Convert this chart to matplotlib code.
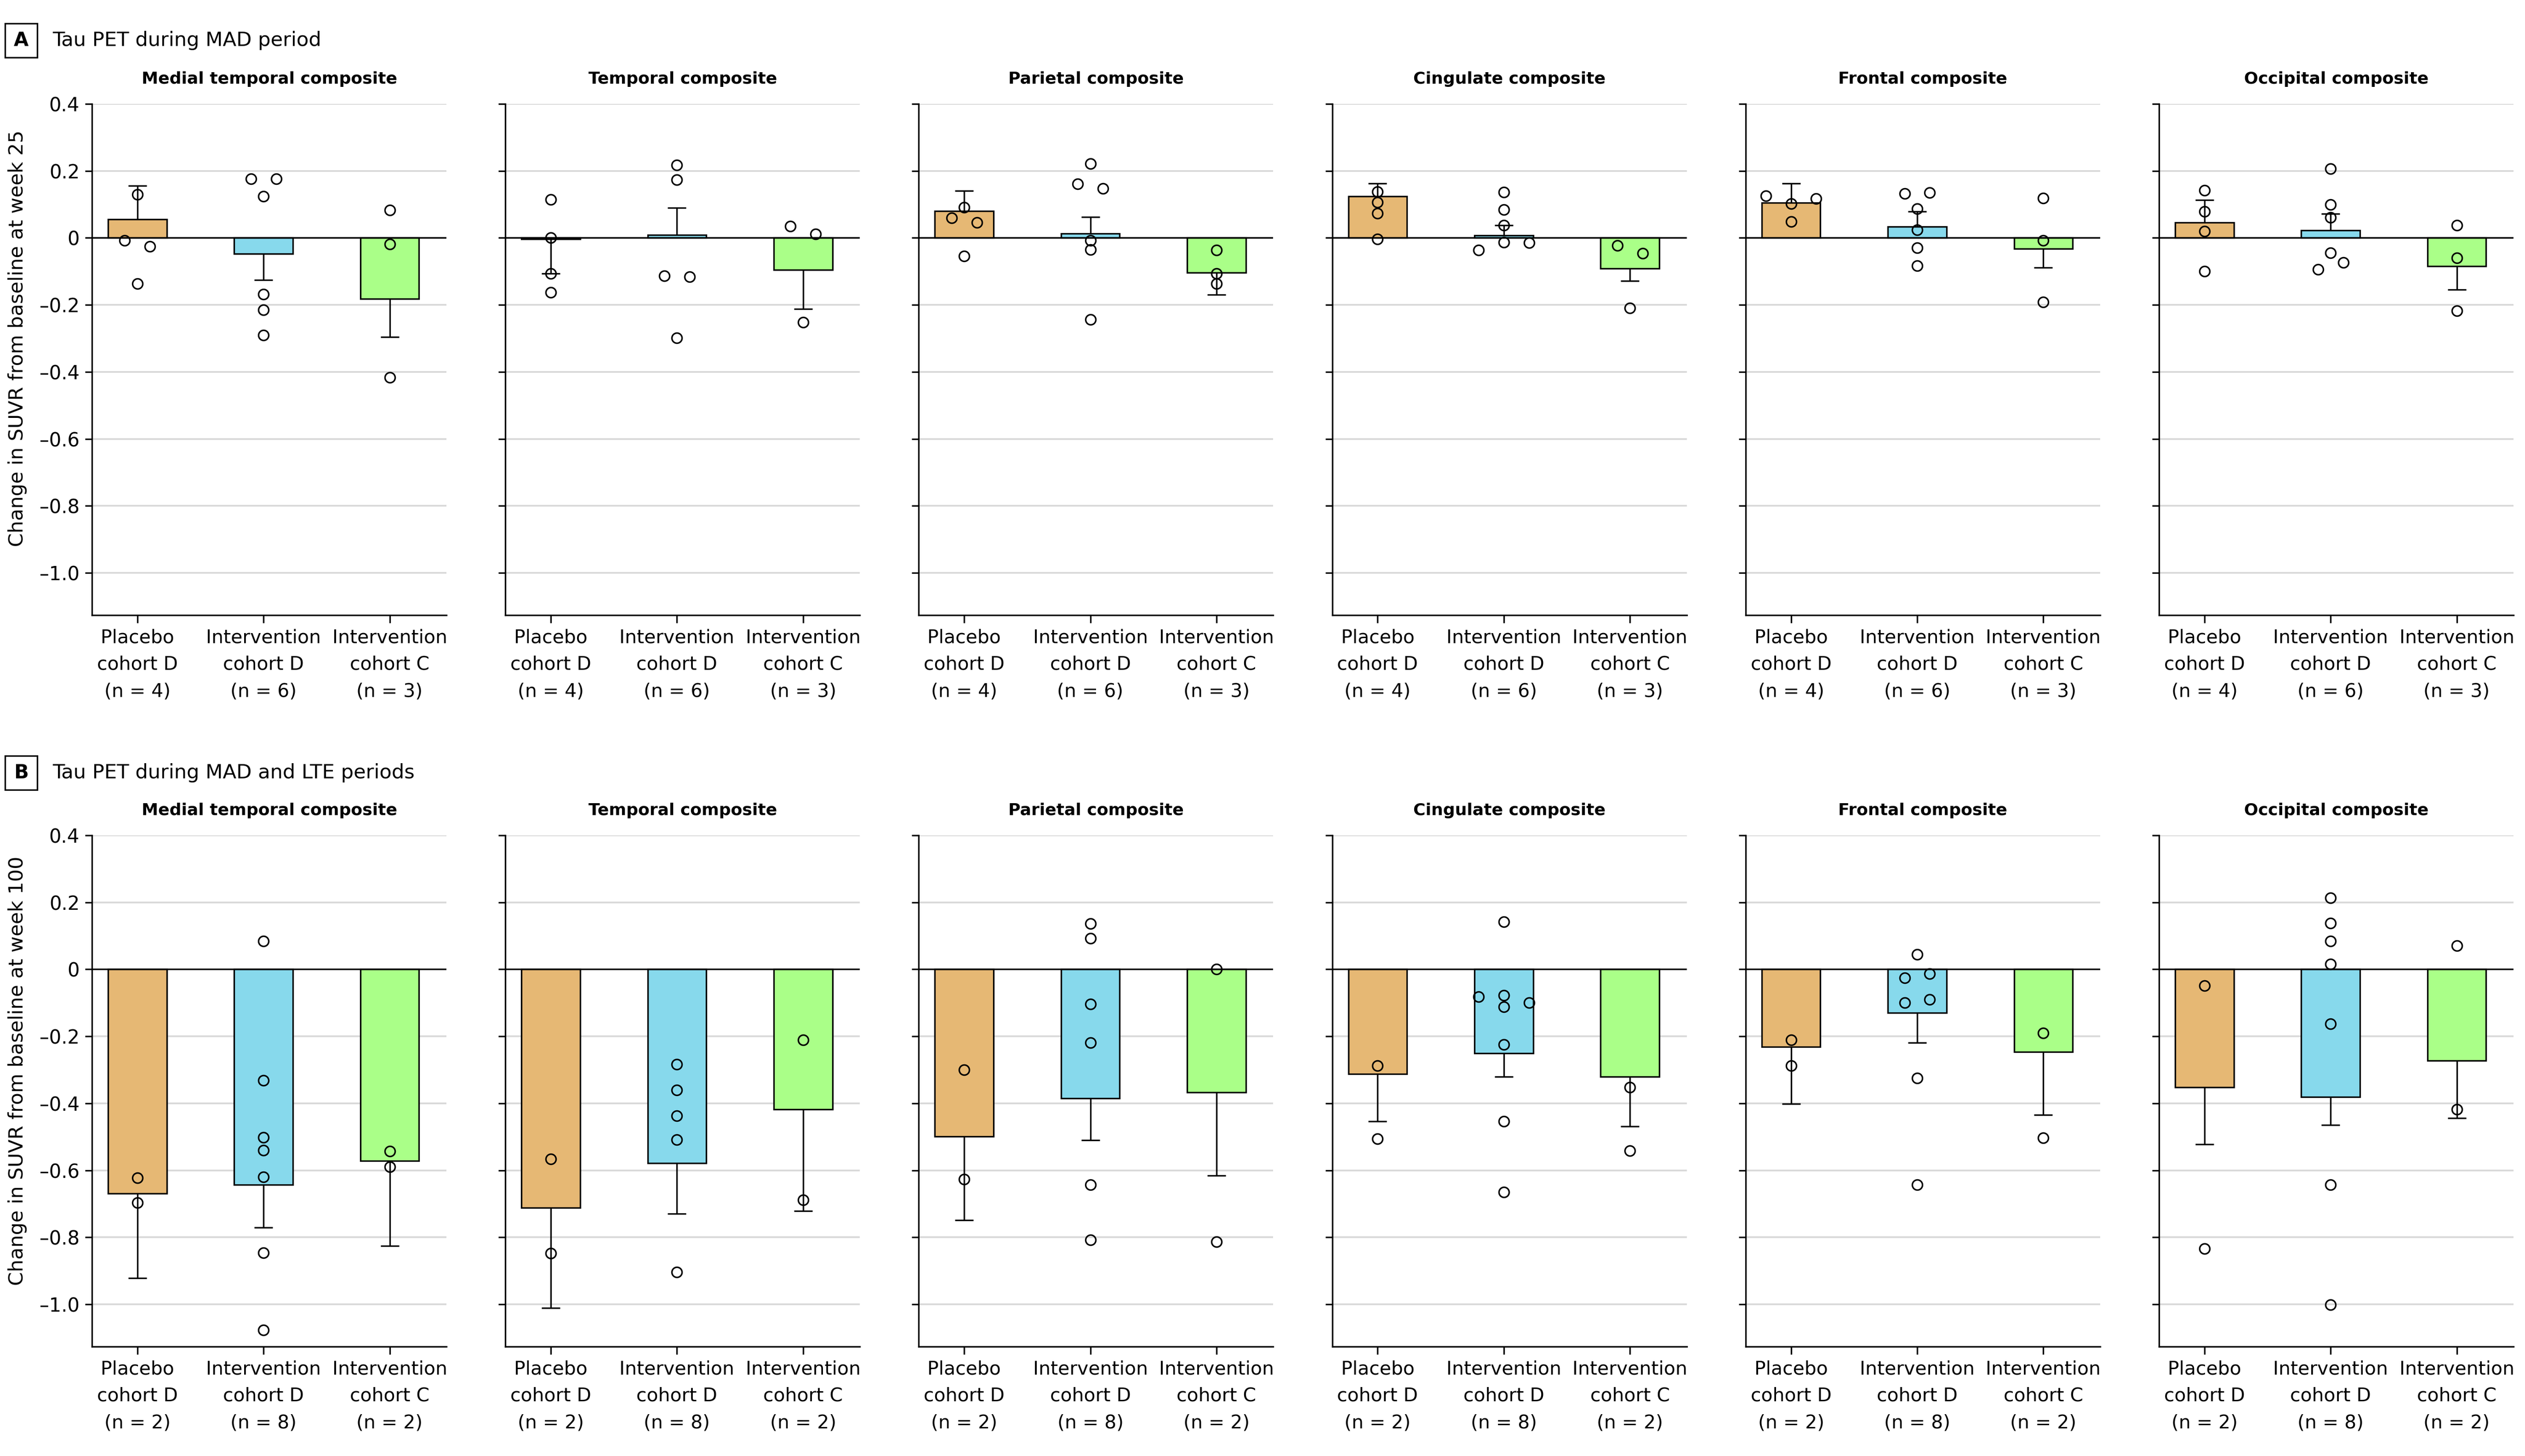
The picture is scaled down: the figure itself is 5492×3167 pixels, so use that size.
import numpy as np
import matplotlib.pyplot as plt
from matplotlib.patches import Rectangle

plt.rcParams['font.family'] = ['DejaVu Sans']

# ---- data ----
regions = ['Medial temporal composite', 'Temporal composite', 'Parietal composite',
           'Cingulate composite', 'Frontal composite', 'Occipital composite']
groups = ['Placebo\ncohort D', 'Intervention\ncohort D', 'Intervention\ncohort C']
n_mad = [4, 6, 3]
n_lte = [2, 8, 2]
yticks = [0.4, 0.2, 0, -0.2, -0.4, -0.6, -0.8, -1.0]
ytick_labels = ['0.4', '0.2', '0', '–0.2', '–0.4', '–0.6', '–0.8', '–1.0']

# A: MAD period (week 25)
mad_mean = [[0.055, -0.048, -0.182],
            [-0.003, 0.009, -0.096],
            [0.080, 0.013, -0.103],
            [0.124, 0.007, -0.091],
            [0.105, 0.033, -0.032],
            [0.046, 0.022, -0.084]]
mad_err = [[0.101, 0.077, 0.114],
           [0.104, 0.081, 0.116],
           [0.061, 0.050, 0.067],
           [0.038, 0.031, 0.037],
           [0.057, 0.046, 0.057],
           [0.067, 0.050, 0.070]]
mad_pts = [
    [[0.129, -0.025, -0.007, -0.137], [0.177, 0.177, 0.124, -0.168, -0.215, -0.290], [0.083, -0.019, -0.417]],
    [[0.115, 0.0, -0.107, -0.162], [0.217, 0.173, -0.116, -0.113, -0.299], [0.011, 0.035, -0.252]],
    [[0.091, 0.046, 0.059, -0.054], [0.222, 0.148, 0.161, -0.007, -0.035, -0.244], [-0.037, -0.107, -0.137]],
    [[0.138, 0.106, 0.074, -0.003], [0.137, 0.085, 0.038, -0.013, -0.036, -0.014], [-0.046, -0.023, -0.209]],
    [[0.102, 0.126, 0.117, 0.049], [0.135, 0.132, 0.087, 0.024, -0.030, -0.083], [0.118, -0.008, -0.192]],
    [[0.142, 0.079, 0.020, -0.100], [0.206, 0.100, 0.061, -0.045, -0.073, -0.094], [0.038, -0.060, -0.218]],
]

# B: MAD and LTE periods (week 100)
lte_mean = [[-0.669, -0.643, -0.571],
            [-0.711, -0.579, -0.418],
            [-0.499, -0.385, -0.367],
            [-0.312, -0.251, -0.320],
            [-0.231, -0.130, -0.247],
            [-0.352, -0.381, -0.272]]
lte_err = [[0.253, 0.127, 0.255],
           [0.300, 0.150, 0.303],
           [0.250, 0.125, 0.249],
           [0.141, 0.070, 0.149],
           [0.171, 0.089, 0.187],
           [0.170, 0.084, 0.172]]
lte_pts = [
    [[-0.623, -0.697], [0.085, -0.331, -0.502, -0.540, -0.620, -0.846, -1.076], [-0.543, -0.590]],
    [[-0.566, -0.847], [-0.284, -0.360, -0.437, -0.509, -0.904], [-0.210, -0.688]],
    [[-0.300, -0.627], [0.137, 0.092, -0.104, -0.219, -0.643, -0.807], [0.0, -0.813]],
    [[-0.288, -0.506], [0.142, -0.077, -0.112, -0.082, -0.100, -0.224, -0.454, -0.665], [-0.352, -0.542]],
    [[-0.211, -0.288], [0.044, -0.013, -0.025, -0.090, -0.100, -0.324, -0.643], [-0.190, -0.503]],
    [[-0.049, -0.834], [0.214, 0.138, 0.084, 0.016, -0.162, -0.643, -1.001], [0.070, -0.418]],
]

colors = ['#E6B874', '#87D9EC', '#AAFF88']

W, H = 5492, 3167
fig = plt.figure(figsize=(W / 300, H / 300), dpi=300)


def swarm(vals, h=0.026, step=0.2):
    # simple beeswarm: dodge overlapping circles, then centre each touching group
    xs = []
    for i, v in enumerate(vals):
        for k in [0, -1, 1, -2, 2, -3, 3]:
            dx = k * step
            if all(abs(v - vals[j]) >= h or abs(dx - xs[j]) > 0.15 for j in range(i)):
                break
        xs.append(dx)
    xs = np.array(xs, dtype=float)
    n = len(vals)
    comp = list(range(n))

    def find(a):
        while comp[a] != a:
            a = comp[a]
        return a
    for i in range(n):
        for j in range(i + 1, n):
            if abs(vals[i] - vals[j]) < h:
                comp[find(i)] = find(j)
    roots = [find(i) for i in range(n)]
    for r in set(roots):
        idx = [i for i in range(n) if roots[i] == r]
        xs[idx] -= xs[idx].mean()
    return xs


def panel(ax, means, errs, pts, nlist, title, first):
    x = np.arange(3)
    ax.bar(x, means, width=0.465, color=colors, edgecolor='black', linewidth=0.8, zorder=2)
    for i in range(3):
        m, e = means[i], errs[i]
        end = m + e if m >= 0 else m - e
        ax.vlines(i, m, end, color='black', lw=0.8, zorder=3)
        ax.hlines(end, i - 0.073, i + 0.073, color='black', lw=0.8, zorder=3)
        xo = swarm(pts[i])
        ax.plot(i + xo, pts[i], 'o', ms=5.3, mfc='none', mec='black', mew=0.8, zorder=4)
    ax.axhline(0, color='black', lw=0.8, zorder=3)
    ax.set_xlim(-0.36, 2.45)
    ax.set_ylim(-1.126, 0.4)
    ax.set_yticks(yticks)
    ax.yaxis.grid(True, color='#d9d9d9', lw=0.9)
    ax.set_axisbelow(True)
    if first:
        ax.set_yticklabels(ytick_labels, fontsize=10)
    else:
        ax.set_yticklabels([])
    ax.set_xticks(x)
    ax.set_xticklabels([f'{g}\n(n = {n})' for g, n in zip(groups, nlist)],
                       fontsize=9.8, linespacing=1.6)
    ax.tick_params(axis='x', length=4, width=0.8, pad=3)
    ax.tick_params(axis='y', length=3.5, width=0.8, pad=3)
    for s in ['top', 'right']:
        ax.spines[s].set_visible(False)
    for s in ['left', 'bottom']:
        ax.spines[s].set_linewidth(0.8)
    ax.set_title(title, fontsize=8.7, fontweight='bold', pad=10.5)


rows = [(1338, mad_mean, mad_err, mad_pts, n_mad),
        (2929, lte_mean, lte_err, lte_pts, n_lte)]
for bottom_px, means, errs, pts, nlist in rows:
    for c in range(6):
        ax = fig.add_axes([(200 + 899.2 * c) / W, 1 - bottom_px / H, 771 / W, 1112 / H])
        panel(ax, means[c], errs[c], pts[c], nlist, regions[c], c == 0)

# panel headers
for letter, yc, text in [('A', 88, 'Tau PET during MAD period'),
                         ('B', 1681, 'Tau PET during MAD and LTE periods')]:
    fig.add_artist(Rectangle((11 / W, 1 - (yc + 37) / H), 70 / W, 74 / H,
                             transform=fig.transFigure, fill=False, ec='black', lw=0.8))
    fig.text(46 / W, 1 - yc / H, letter, fontsize=10, fontweight='bold', ha='center', va='center')
    fig.text(114 / W, 1 - yc / H, text, fontsize=10.4, ha='left', va='center')

fig.text(38 / W, 1 - 736 / H, 'Change in SUVR from baseline at week 25',
         rotation=90, fontsize=10.3, ha='center', va='center')
fig.text(38 / W, 1 - 2329 / H, 'Change in SUVR from baseline at week 100',
         rotation=90, fontsize=10.3, ha='center', va='center')

fig.savefig('out.png', dpi=300)
